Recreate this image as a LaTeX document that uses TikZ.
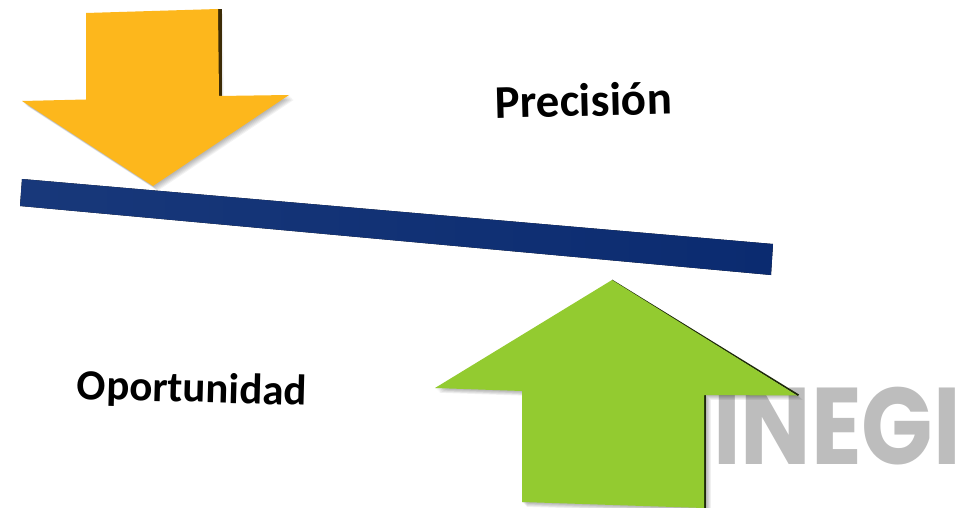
\documentclass[tikz,border=0pt]{standalone}
\usepackage{fontspec}
\setmainfont{Carlito}
\newfontfamily\logofont{Poppins}
\usetikzlibrary{calc}
\definecolor{arrowyellow}{HTML}{FDB71C}
\definecolor{arrowgreen}{HTML}{93CB30}
\definecolor{barblueL}{HTML}{18387A}
\definecolor{barblueR}{HTML}{0B2B70}
\definecolor{logogray}{HTML}{BDBDBD}
\tikzset{
  softshadow/.style={fill=black,fill opacity=0.05,draw=none},
  label text/.style={font=\bfseries\fontsize{#1}{#1}\selectfont,text=black,inner sep=0pt},
  logo text/.style={font=\logofont\bfseries\fontsize{109}{109}\selectfont,text=logogray,inner sep=0pt},
}
\begin{document}
\begin{tikzpicture}[x=1pt,y=-1pt]
\useasboundingbox (0,0) rectangle (976,508);
\fill[white] (0,0) rectangle (976,508);
% logo
\node[logo text,anchor=center,xscale=0.86] (logo) at (837,426) {INEGI};
% yellow arrow shadow
\foreach \d in {1,2,...,6}{
  \fill[softshadow] ($(86,13)+(\d*0.8,\d*0.8)$) -- ($(218,9)+(\d*0.8,\d*0.8)$) -- ($(219,96)+(\d*0.8,\d*0.8)$) -- ($(289,95)+(\d*0.8,\d*0.8)$) -- ($(153,186)+(\d*0.8,\d*0.8)$) -- ($(22,101)+(\d*0.8,\d*0.8)$) -- ($(86,99.5)+(\d*0.8,\d*0.8)$) -- cycle;
}
\fill[black!70!arrowyellow!80!black] (218,9) -- (221.5,9) -- (221.5,97) -- (218,97) -- cycle;
\fill[arrowyellow] (86,13) -- (218,9) -- (219,96) -- (289,95) -- (153,186) -- (22,101) -- (86,99.5) -- cycle;
% bar
\fill[left color=barblueL,right color=barblueR] (22,179) -- (773,244) -- (771,275) -- (20,206) -- cycle;
% green arrow shadow
\foreach \d in {1,2,...,6}{
  \fill[softshadow] ($(612,280)+(\d*0.8,\d*0.8)$) -- ($(798,395)+(\d*0.8,\d*0.8)$) -- ($(706,395)+(\d*0.8,\d*0.8)$) -- ($(706,508)+(\d*0.8,\d*0.8)$) -- ($(522,502)+(\d*0.8,\d*0.8)$) -- ($(522,391)+(\d*0.8,\d*0.8)$) -- ($(435,388)+(\d*0.8,\d*0.8)$) -- cycle;
}
\fill[black!80!arrowgreen] (612,279.5) -- (799,394.5) -- (798,396) -- (612,281) -- cycle;
\fill[black!80!arrowgreen] (703,395) -- (706,395) -- (706,508) -- (703,508) -- cycle;
\fill[arrowgreen] (612,280) -- (797,395.5) -- (704,395) -- (704,508) -- (522,502) -- (522,391) -- (435,388) -- cycle;
% labels
\node[label text=47,rotate=1.5] (precision) at (583.5,100) {Precisión};
\node[label text=43,rotate=-1.5] (oportunidad) at (192,390.5) {Oportunidad};
\end{tikzpicture}
\end{document}
